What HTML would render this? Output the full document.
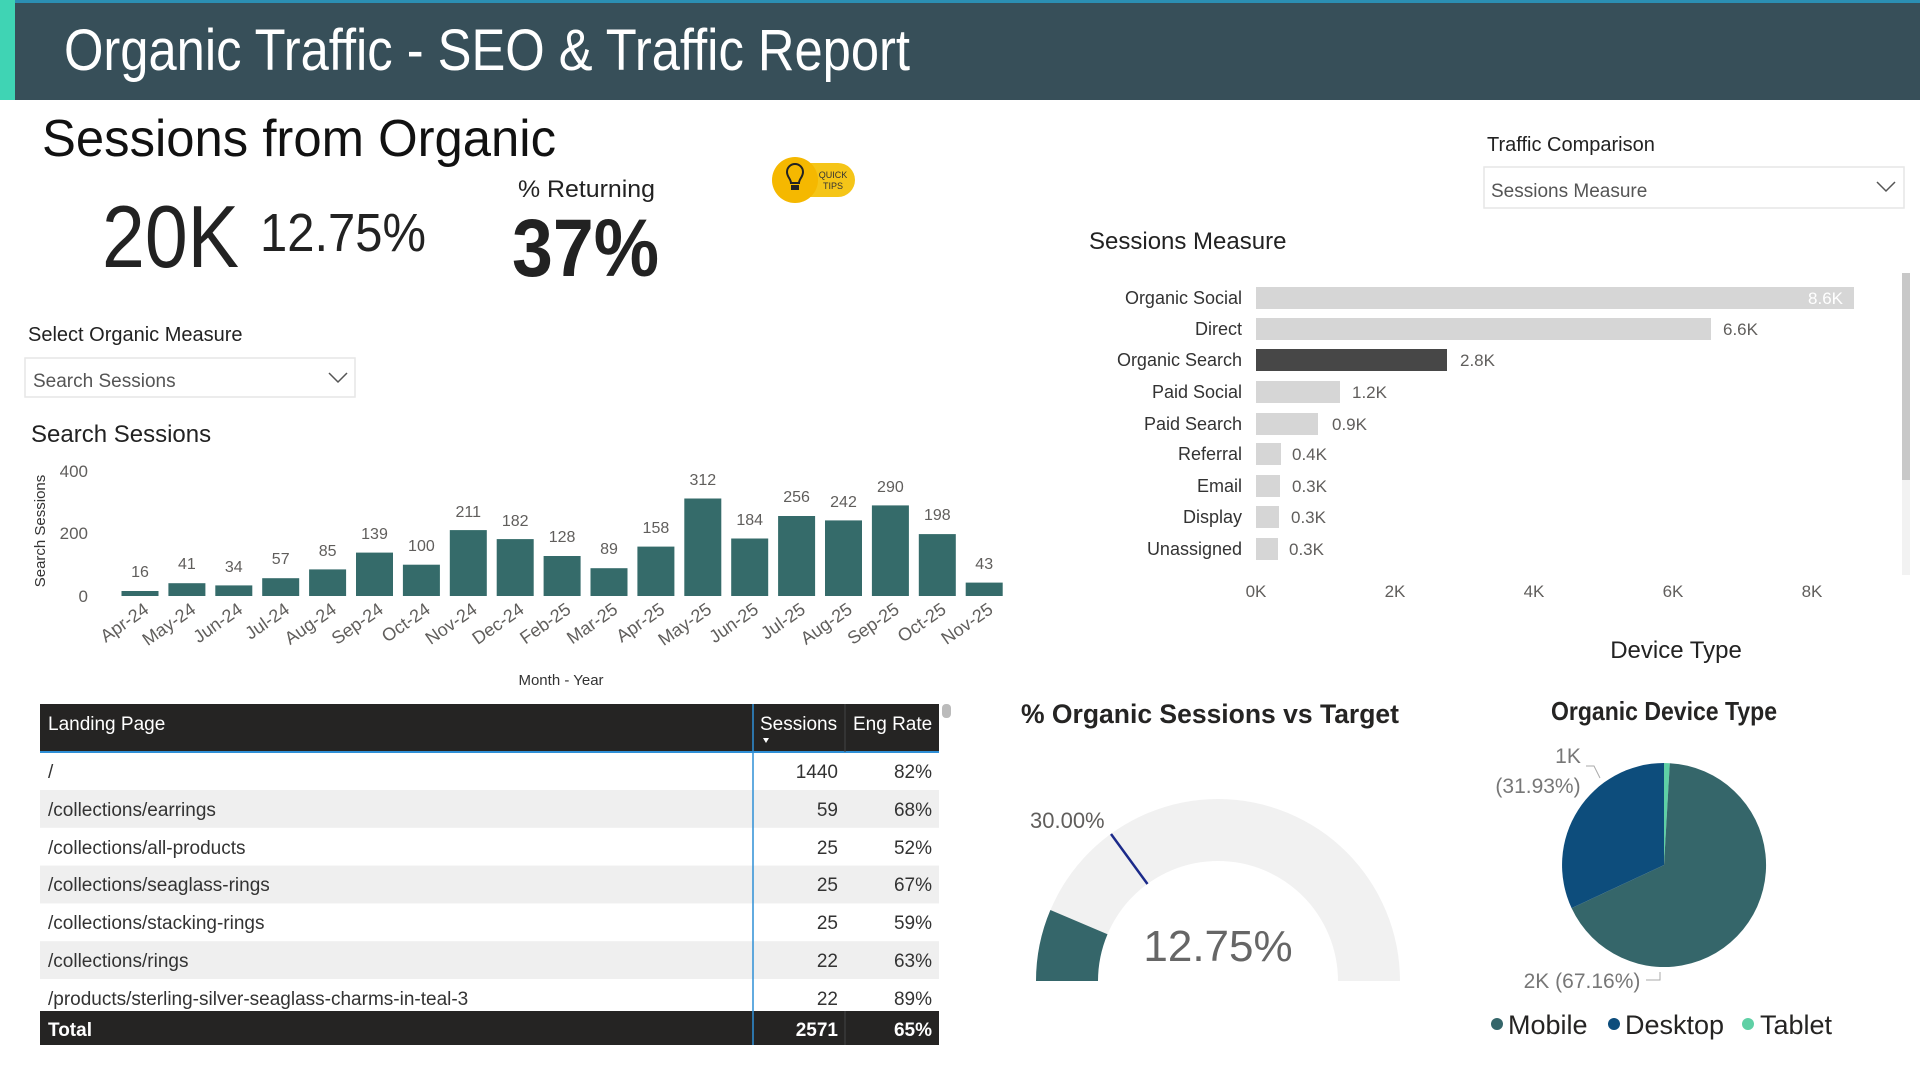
<!DOCTYPE html>
<html><head><meta charset="utf-8"><style>
html,body{margin:0;padding:0;background:#fff;}
svg{display:block;font-family:"Liberation Sans",sans-serif;}
</style></head><body>
<svg width="1920" height="1078" viewBox="0 0 1920 1078" xmlns="http://www.w3.org/2000/svg">
<rect width="1920" height="1078" fill="#fff"/>
<!-- header -->
<rect x="0" y="0" width="1920" height="100" fill="#374f59"/>
<rect x="0" y="0" width="1920" height="3" fill="#2b8fb3"/>
<rect x="0" y="0" width="15" height="100" fill="#3fd4b4"/>
<text x="64" y="70" font-size="58" fill="#fff" textLength="846" lengthAdjust="spacingAndGlyphs">Organic Traffic - SEO &amp; Traffic Report</text>

<text x="42" y="156" font-size="52" fill="#111" textLength="514" lengthAdjust="spacingAndGlyphs">Sessions from Organic</text>
<text x="102" y="267" font-size="88" fill="#222" textLength="137" lengthAdjust="spacingAndGlyphs">20K</text>
<text x="260" y="251" font-size="54" fill="#222" textLength="166" lengthAdjust="spacingAndGlyphs">12.75%</text>
<text x="518" y="197" font-size="24" fill="#222" textLength="137" lengthAdjust="spacingAndGlyphs">% Returning</text>
<text x="512" y="276" font-size="82" font-weight="bold" fill="#222" textLength="147" lengthAdjust="spacingAndGlyphs">37%</text>

<!-- quick tips -->
<rect x="790" y="163" width="65" height="34" rx="17" fill="#f5c518"/>
<circle cx="795" cy="180" r="23" fill="#f5b800"/>
<path d="M787 172 a8 8 0 1 1 16 0 c0 5 -4 7 -4 11 h-8 c0 -4 -4 -6 -4 -11z" fill="none" stroke="#222" stroke-width="2"/>
<rect x="791" y="185" width="8" height="5" fill="#222"/>
<text x="833" y="178" font-size="9" fill="#333" text-anchor="middle">QUICK</text>
<text x="833" y="189" font-size="9" fill="#333" text-anchor="middle">TIPS</text>

<!-- select organic measure -->
<text x="28" y="341" font-size="20" fill="#222">Select Organic Measure</text>
<rect x="25" y="358" width="330" height="39" fill="#fff" stroke="#e6e6e6" stroke-width="1.5"/>
<text x="33" y="387" font-size="19" fill="#555">Search Sessions</text>
<path d="M329 373 l9 9 l9 -9" fill="none" stroke="#555" stroke-width="1.5"/>

<text x="31" y="442" font-size="24" fill="#222">Search Sessions</text>

<!-- column chart -->
<text transform="translate(45,531) rotate(-90)" font-size="15" fill="#333" text-anchor="middle">Search Sessions</text>
<g font-size="17" fill="#605e5c" text-anchor="end">
<text x="88" y="477">400</text><text x="88" y="539">200</text><text x="88" y="602">0</text>
</g>
<g fill="#356b6a">
<rect x="121.5" y="591" width="37" height="5"/>
<rect x="168.4" y="583.2" width="37" height="12.8"/>
<rect x="215.3" y="585.4" width="37" height="10.6"/>
<rect x="262.2" y="578.2" width="37" height="17.8"/>
<rect x="309.1" y="569.4" width="37" height="26.6"/>
<rect x="356" y="552.6" width="37" height="43.4"/>
<rect x="402.9" y="564.7" width="37" height="31.3"/>
<rect x="449.8" y="530.1" width="37" height="65.9"/>
<rect x="496.7" y="539.1" width="37" height="56.9"/>
<rect x="543.6" y="556" width="37" height="40"/>
<rect x="590.5" y="568.2" width="37" height="27.8"/>
<rect x="637.4" y="546.6" width="37" height="49.4"/>
<rect x="684.3" y="498.5" width="37" height="97.5"/>
<rect x="731.2" y="538.5" width="37" height="57.5"/>
<rect x="778.1" y="516" width="37" height="80"/>
<rect x="825" y="520.4" width="37" height="75.6"/>
<rect x="871.9" y="505.4" width="37" height="90.6"/>
<rect x="918.8" y="534.1" width="37" height="61.9"/>
<rect x="965.7" y="582.6" width="37" height="13.4"/>
</g>
<g font-size="16" fill="#605e5c" text-anchor="middle">
<text x="140" y="577">16</text><text x="186.9" y="569">41</text><text x="233.8" y="572">34</text>
<text x="280.7" y="564">57</text><text x="327.6" y="556">85</text><text x="374.5" y="539">139</text>
<text x="421.4" y="551">100</text><text x="468.3" y="517">211</text><text x="515.2" y="526">182</text>
<text x="562.1" y="542">128</text><text x="609" y="554">89</text><text x="655.9" y="533">158</text>
<text x="702.8" y="485">312</text><text x="749.7" y="525">184</text><text x="796.6" y="502">256</text>
<text x="843.5" y="507">242</text><text x="890.4" y="492">290</text><text x="937.3" y="520">198</text>
<text x="984.2" y="569">43</text>
</g>
<g font-size="18" fill="#605e5c" text-anchor="end">
<text transform="translate(150,612) rotate(-35)">Apr-24</text>
<text transform="translate(196.9,612) rotate(-35)">May-24</text>
<text transform="translate(243.8,612) rotate(-35)">Jun-24</text>
<text transform="translate(290.7,612) rotate(-35)">Jul-24</text>
<text transform="translate(337.6,612) rotate(-35)">Aug-24</text>
<text transform="translate(384.5,612) rotate(-35)">Sep-24</text>
<text transform="translate(431.4,612) rotate(-35)">Oct-24</text>
<text transform="translate(478.3,612) rotate(-35)">Nov-24</text>
<text transform="translate(525.2,612) rotate(-35)">Dec-24</text>
<text transform="translate(572.1,612) rotate(-35)">Feb-25</text>
<text transform="translate(619,612) rotate(-35)">Mar-25</text>
<text transform="translate(665.9,612) rotate(-35)">Apr-25</text>
<text transform="translate(712.8,612) rotate(-35)">May-25</text>
<text transform="translate(759.7,612) rotate(-35)">Jun-25</text>
<text transform="translate(806.6,612) rotate(-35)">Jul-25</text>
<text transform="translate(853.5,612) rotate(-35)">Aug-25</text>
<text transform="translate(900.4,612) rotate(-35)">Sep-25</text>
<text transform="translate(947.3,612) rotate(-35)">Oct-25</text>
<text transform="translate(994.2,612) rotate(-35)">Nov-25</text>
</g>
<text x="561" y="685" font-size="15" fill="#333" text-anchor="middle">Month - Year</text>

<!-- traffic comparison -->
<text x="1487" y="151" font-size="20" fill="#222">Traffic Comparison</text>
<rect x="1484" y="167" width="420" height="41" fill="#fff" stroke="#e6e6e6" stroke-width="1.5"/>
<text x="1491" y="197" font-size="19" fill="#555">Sessions Measure</text>
<path d="M1877 182 l9 9 l9 -9" fill="none" stroke="#555" stroke-width="1.5"/>

<text x="1089" y="249" font-size="24" fill="#222">Sessions Measure</text>
<rect x="1902" y="273" width="8" height="302" fill="#f2f2f2"/>
<rect x="1902" y="273" width="8" height="207" fill="#c8c8c8"/>
<g font-size="18" fill="#333" text-anchor="end">
<text x="1242" y="304">Organic Social</text>
<text x="1242" y="335">Direct</text>
<text x="1242" y="366">Organic Search</text>
<text x="1242" y="398">Paid Social</text>
<text x="1242" y="430">Paid Search</text>
<text x="1242" y="460">Referral</text>
<text x="1242" y="492">Email</text>
<text x="1242" y="523">Display</text>
<text x="1242" y="555">Unassigned</text>
</g>
<g fill="#d6d6d6">
<rect x="1256" y="287" width="598" height="22"/>
<rect x="1256" y="318" width="455" height="22"/>
<rect x="1256" y="381" width="84" height="22"/>
<rect x="1256" y="413" width="62" height="22"/>
<rect x="1256" y="443" width="25" height="22"/>
<rect x="1256" y="475" width="24" height="22"/>
<rect x="1256" y="506" width="23" height="22"/>
<rect x="1256" y="538" width="22" height="22"/>
</g>
<rect x="1256" y="349" width="191" height="22" fill="#474747"/>
<text x="1843" y="304" font-size="17" fill="#fff" text-anchor="end">8.6K</text>
<g font-size="17" fill="#605e5c">
<text x="1723" y="335">6.6K</text>
<text x="1460" y="366">2.8K</text>
<text x="1352" y="398">1.2K</text>
<text x="1332" y="430">0.9K</text>
<text x="1292" y="460">0.4K</text>
<text x="1292" y="492">0.3K</text>
<text x="1291" y="523">0.3K</text>
<text x="1289" y="555">0.3K</text>
</g>
<g font-size="17" fill="#605e5c" text-anchor="middle">
<text x="1256" y="597">0K</text><text x="1395" y="597">2K</text><text x="1534" y="597">4K</text><text x="1673" y="597">6K</text><text x="1812" y="597">8K</text>
</g>

<text x="1676" y="658" font-size="24" fill="#222" text-anchor="middle">Device Type</text>

<!-- table -->
<rect x="40" y="704" width="899" height="48" fill="#252423"/>
<rect x="40" y="751" width="899" height="2" fill="#2f8fd6"/>
<g fill="#efefef">
<rect x="40" y="790" width="899" height="37.8"/>
<rect x="40" y="865.6" width="899" height="37.8"/>
<rect x="40" y="941.2" width="899" height="37.8"/>
</g>
<rect x="40" y="1011" width="899" height="34" fill="#252423"/>
<line x1="753" y1="704" x2="753" y2="1045" stroke="#2f8fd6" stroke-width="1.5"/>
<line x1="845" y1="704" x2="845" y2="752" stroke="#444" stroke-width="1"/>
<line x1="845" y1="1011" x2="845" y2="1045" stroke="#444" stroke-width="1"/>
<rect x="942" y="704" width="9" height="14" rx="4" fill="#bbb"/>
<g font-size="19" fill="#fff">
<text x="48" y="730">Landing Page</text>
<text x="760" y="730">Sessions</text>
<text x="853" y="730">Eng Rate</text>
</g>
<path d="M763 738 l6 0 l-3 5z" fill="#fff"/>
<g font-size="19" fill="#333">
<text x="48" y="778">/</text>
<text x="48" y="816">/collections/earrings</text>
<text x="48" y="854">/collections/all-products</text>
<text x="48" y="891">/collections/seaglass-rings</text>
<text x="48" y="929">/collections/stacking-rings</text>
<text x="48" y="967">/collections/rings</text>
<text x="48" y="1005">/products/sterling-silver-seaglass-charms-in-teal-3</text>
</g>
<g font-size="19" fill="#333" text-anchor="end">
<text x="838" y="778">1440</text><text x="932" y="778">82%</text>
<text x="838" y="816">59</text><text x="932" y="816">68%</text>
<text x="838" y="854">25</text><text x="932" y="854">52%</text>
<text x="838" y="891">25</text><text x="932" y="891">67%</text>
<text x="838" y="929">25</text><text x="932" y="929">59%</text>
<text x="838" y="967">22</text><text x="932" y="967">63%</text>
<text x="838" y="1005">22</text><text x="932" y="1005">89%</text>
</g>
<text x="48" y="1036" font-size="19" font-weight="bold" fill="#fff">Total</text>
<g font-size="19" font-weight="bold" fill="#fff" text-anchor="end">
<text x="838" y="1036">2571</text><text x="932" y="1036">65%</text>
</g>

<!-- gauge -->
<text x="1021" y="723" font-size="27" font-weight="bold" fill="#252423" textLength="378" lengthAdjust="spacingAndGlyphs">% Organic Sessions vs Target</text>
<path d="M1036 981 A182 182 0 0 1 1400 981 L1338 981 A120 120 0 0 0 1098 981 Z" fill="#f1f1f1"/>
<path d="M1036 981 A182 182 0 0 1 1050.4 910 L1107.5 934.2 A120 120 0 0 0 1098 981 Z" fill="#35666a"/>
<line x1="1111" y1="834" x2="1147.5" y2="884" stroke="#1b2a8a" stroke-width="2.5"/>
<text x="1030" y="828" font-size="22" fill="#605e5c">30.00%</text>
<text x="1218" y="961" font-size="44" fill="#666" text-anchor="middle">12.75%</text>

<!-- pie -->
<text x="1664" y="720" font-size="26" font-weight="bold" fill="#252423" text-anchor="middle" textLength="226" lengthAdjust="spacingAndGlyphs">Organic Device Type</text>
<path d="M1664 865 L1664 763 A102 102 0 0 1 1669.8 763.2 Z" fill="#5fd0a5"/>
<path d="M1664 865 L1669.8 763.2 A102 102 0 1 1 1571.6 908.1 Z" fill="#35666a"/>
<path d="M1664 865 L1571.6 908.1 A102 102 0 0 1 1664 763 Z" fill="#0d4d7c"/>
<g font-size="21" fill="#777" text-anchor="middle">
<text x="1568" y="763">1K</text>
<text x="1538" y="793">(31.93%)</text>
<text x="1582" y="988">2K (67.16%)</text>
</g>
<path d="M1586 766 h8 l6 12" fill="none" stroke="#aaa" stroke-width="1"/>
<path d="M1646 980 h14 v-8" fill="none" stroke="#aaa" stroke-width="1"/>
<g font-size="27" fill="#252423">
<circle cx="1497" cy="1024" r="6" fill="#35666a"/><text x="1508" y="1034">Mobile</text>
<circle cx="1614" cy="1024" r="6" fill="#0d4d7c"/><text x="1625" y="1034">Desktop</text>
<circle cx="1748" cy="1024" r="6" fill="#5fd0a5"/><text x="1760" y="1034">Tablet</text>
</g>
</svg>
</body></html>
